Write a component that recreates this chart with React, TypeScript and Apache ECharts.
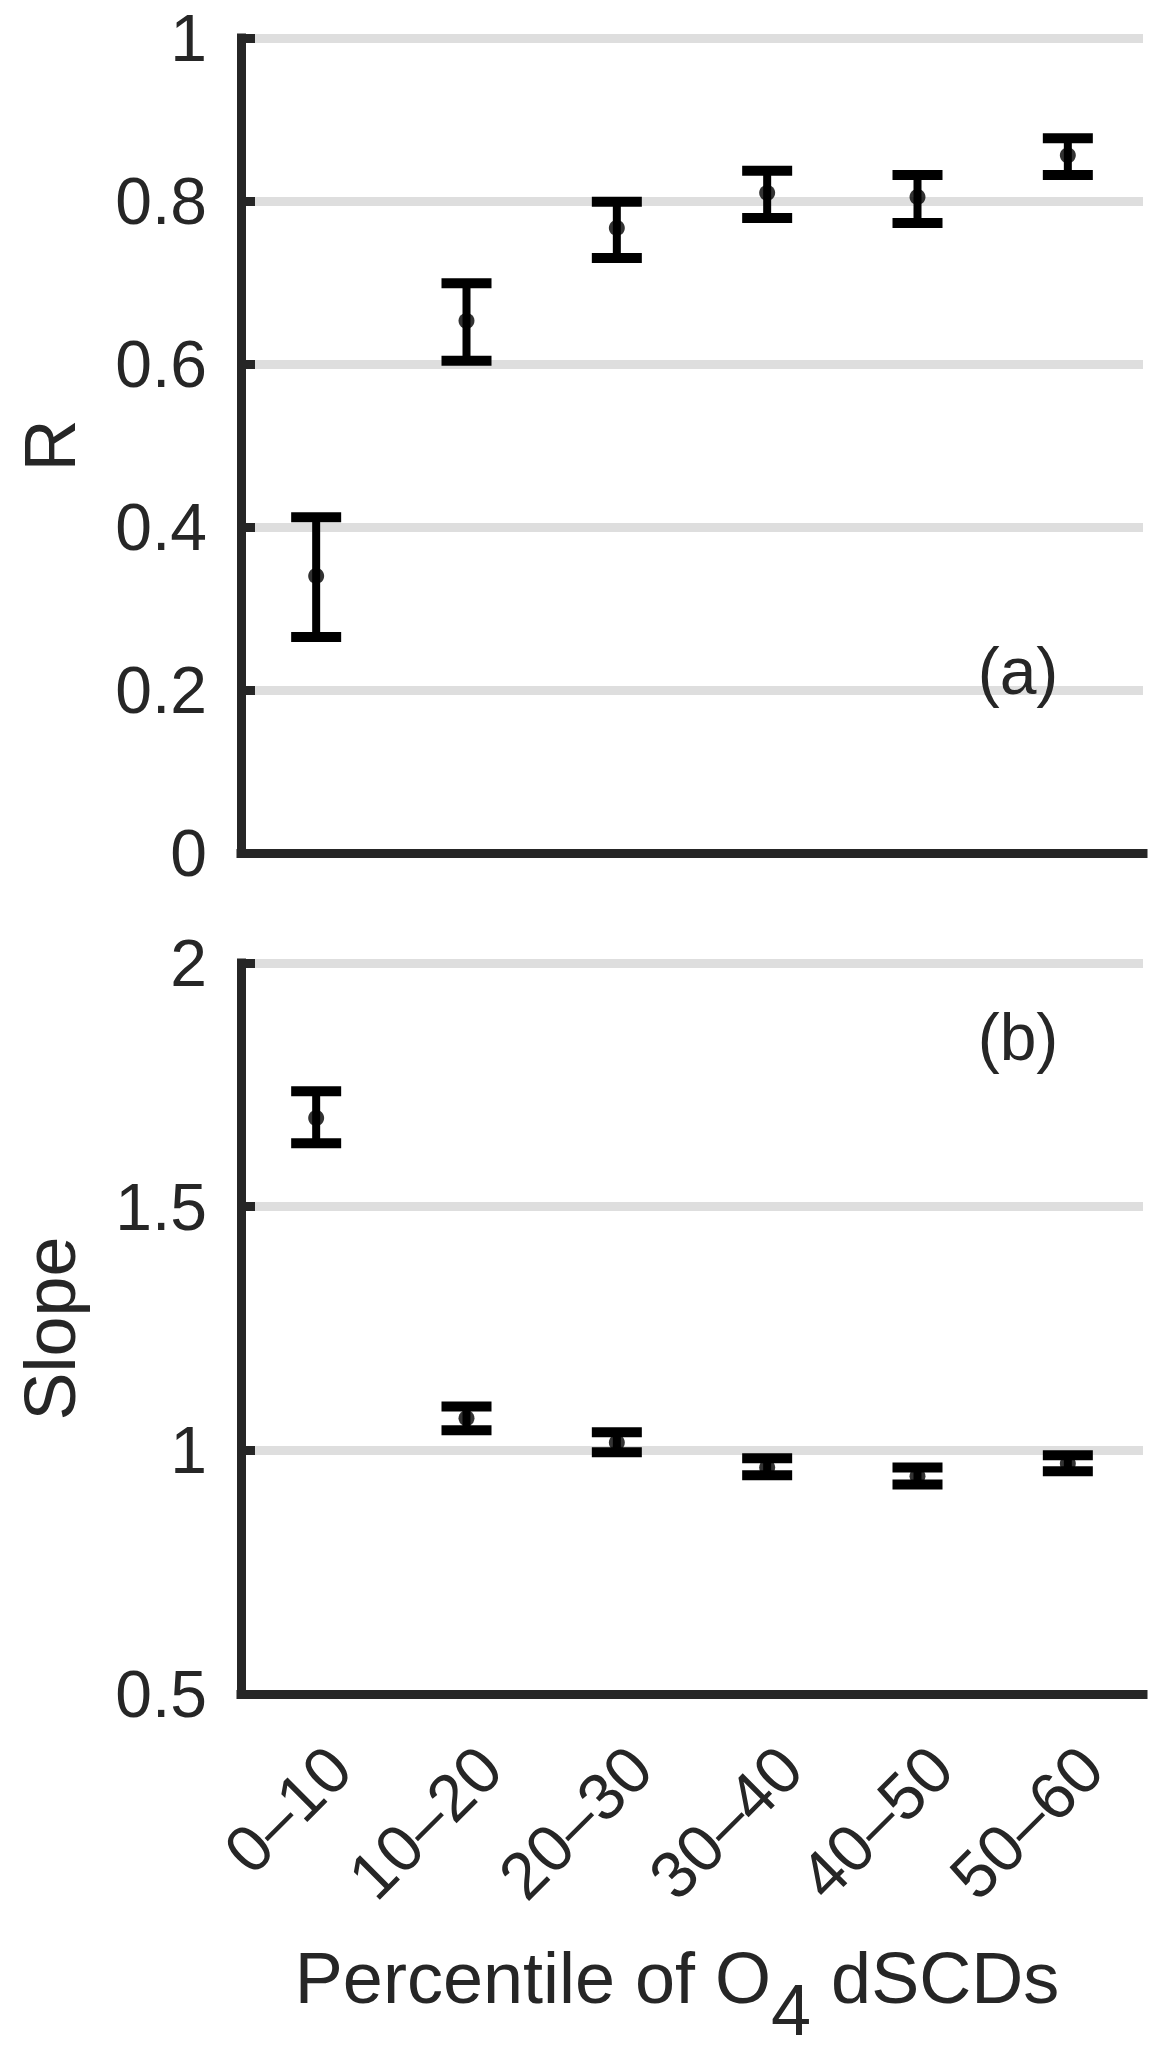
import React, { useEffect, useRef } from "react";
import * as echarts from "echarts";

const categories = ["0–10", "10–20", "20–30", "30–40", "40–50", "50–60"];

const rMean = [0.34, 0.653, 0.767, 0.81, 0.805, 0.856];
const rLow = [0.265, 0.604, 0.73, 0.779, 0.773, 0.832];
const rHigh = [0.412, 0.699, 0.799, 0.837, 0.832, 0.877];

const slopeMean = [1.682, 1.066, 1.016, 0.965, 0.947, 0.973];
const slopeLow = [1.63, 1.041, 0.996, 0.949, 0.93, 0.957];
const slopeHigh = [1.737, 1.09, 1.037, 0.984, 0.965, 0.99];

const rTicks = { min: 0, max: 1, interval: 0.2 };
const slopeTicks = { min: 0.5, max: 2, interval: 0.5 };

const FONT = '"Liberation Sans", Arial, Helvetica, sans-serif';
const AX = "#262626";
const GRID = "#dedede";

function errorRender(params: any, api: any) {
  const x = api.value(0);
  const lo = api.coord([x, api.value(1)]);
  const hi = api.coord([x, api.value(2)]);
  const half = 25;
  const st = { stroke: "#000", lineWidth: 10 };
  return {
    type: "group",
    children: [
      { type: "line", shape: { x1: lo[0], y1: lo[1], x2: hi[0], y2: hi[1] }, style: { stroke: "#000", lineWidth: 8 } },
      { type: "line", shape: { x1: hi[0] - half, y1: hi[1], x2: hi[0] + half, y2: hi[1] }, style: st },
      { type: "line", shape: { x1: lo[0] - half, y1: lo[1], x2: lo[0] + half, y2: lo[1] }, style: st },
    ],
  };
}

export default function App() {
  const ref = useRef<HTMLDivElement>(null);
  useEffect(() => {
    if (!ref.current) return;
    const chart = echarts.init(ref.current, null, { renderer: "svg" });

    const xAxisBase = (gridIndex: number, showLabels: boolean) => ({
      type: "category",
      gridIndex,
      data: categories,
      boundaryGap: true,
      axisLine: { lineStyle: { color: AX, width: 9, cap: "square" } },
      axisTick: { alignWithLabel: true, inside: true, length: 14, lineStyle: { color: AX, width: 9 } },
      splitLine: { show: false },
      axisLabel: showLabels
        ? {
            show: true,
            rotate: 45,
            align: "right",
            verticalAlign: "top",
            margin: 40,
            fontSize: 66,
            fontFamily: FONT,
            color: AX,
            interval: 0,
          }
        : { show: false },
    });

    const yAxisBase = (gridIndex: number, name: string, t: any) => ({
      type: "value",
      gridIndex,
      min: t.min,
      max: t.max,
      interval: t.interval,
      name,
      nameLocation: "middle",
      nameGap: 155,
      nameRotate: 90,
      nameTextStyle: { fontSize: 72, fontFamily: FONT, color: AX },
      axisLine: { show: true, lineStyle: { color: AX, width: 9, cap: "square" } },
      axisTick: { show: true, inside: true, length: 14, lineStyle: { color: AX, width: 9 } },
      splitLine: { show: true, lineStyle: { color: GRID, width: 9 } },
      axisLabel: { fontSize: 66, fontFamily: FONT, color: AX, margin: 34 },
    });

    const xBottom: any = xAxisBase(1, true);
    xBottom.name = "{m|Percentile of O}{s|4}{m| dSCDs}";
    xBottom.nameLocation = "middle";
    xBottom.nameGap = 248;
    xBottom.nameTextStyle = {
      fontFamily: FONT,
      color: AX,
      padding: [0, 30, 0, 0],
      rich: {
        m: { fontSize: 72, fontFamily: FONT, color: AX, lineHeight: 80, verticalAlign: "top" },
        s: { fontSize: 72, fontFamily: FONT, color: AX, lineHeight: 80, verticalAlign: "top", padding: [32, 0, 0, 0] },
      },
    };

    const option: any = {
      animation: false,
      backgroundColor: "#ffffff",
      grid: [
        { left: 241, top: 38, width: 902, height: 815, containLabel: false },
        { left: 241, top: 963, width: 902, height: 731, containLabel: false },
      ],
      xAxis: [xAxisBase(0, false), xBottom],
      yAxis: [yAxisBase(0, "R", rTicks), yAxisBase(1, "Slope", slopeTicks)],
      graphic: [
        {
          type: "text",
          x: 1018,
          y: 671,
          z: 100,
          style: { text: "(a)", fontSize: 66, fontFamily: FONT, fill: AX, align: "center", verticalAlign: "middle" },
        },
        {
          type: "text",
          x: 1018,
          y: 1037,
          z: 100,
          style: { text: "(b)", fontSize: 66, fontFamily: FONT, fill: AX, align: "center", verticalAlign: "middle" },
        },
      ],
      series: [
        {
          type: "custom",
          xAxisIndex: 0,
          yAxisIndex: 0,
          renderItem: errorRender,
          data: categories.map((_, i) => [i, rLow[i], rHigh[i]]),
          encode: { x: 0, y: [1, 2] },
          z: 5,
        },
        {
          type: "scatter",
          xAxisIndex: 0,
          yAxisIndex: 0,
          symbol: "circle",
          symbolSize: 16,
          itemStyle: { color: "#000" },
          data: rMean.map((v, i) => [i, v]),
          z: 6,
        },
        {
          type: "custom",
          xAxisIndex: 1,
          yAxisIndex: 1,
          renderItem: errorRender,
          data: categories.map((_, i) => [i, slopeLow[i], slopeHigh[i]]),
          encode: { x: 0, y: [1, 2] },
          z: 5,
        },
        {
          type: "scatter",
          xAxisIndex: 1,
          yAxisIndex: 1,
          symbol: "circle",
          symbolSize: 16,
          itemStyle: { color: "#000" },
          data: slopeMean.map((v, i) => [i, v]),
          z: 6,
        },
      ],
    };
    chart.setOption(option);
    return () => chart.dispose();
  }, []);
  return (
    <div
      ref={ref}
      style={{ position: "absolute", left: 0, top: 0, width: 1165, height: 2053, background: "#fff" }}
    />
  );
}
